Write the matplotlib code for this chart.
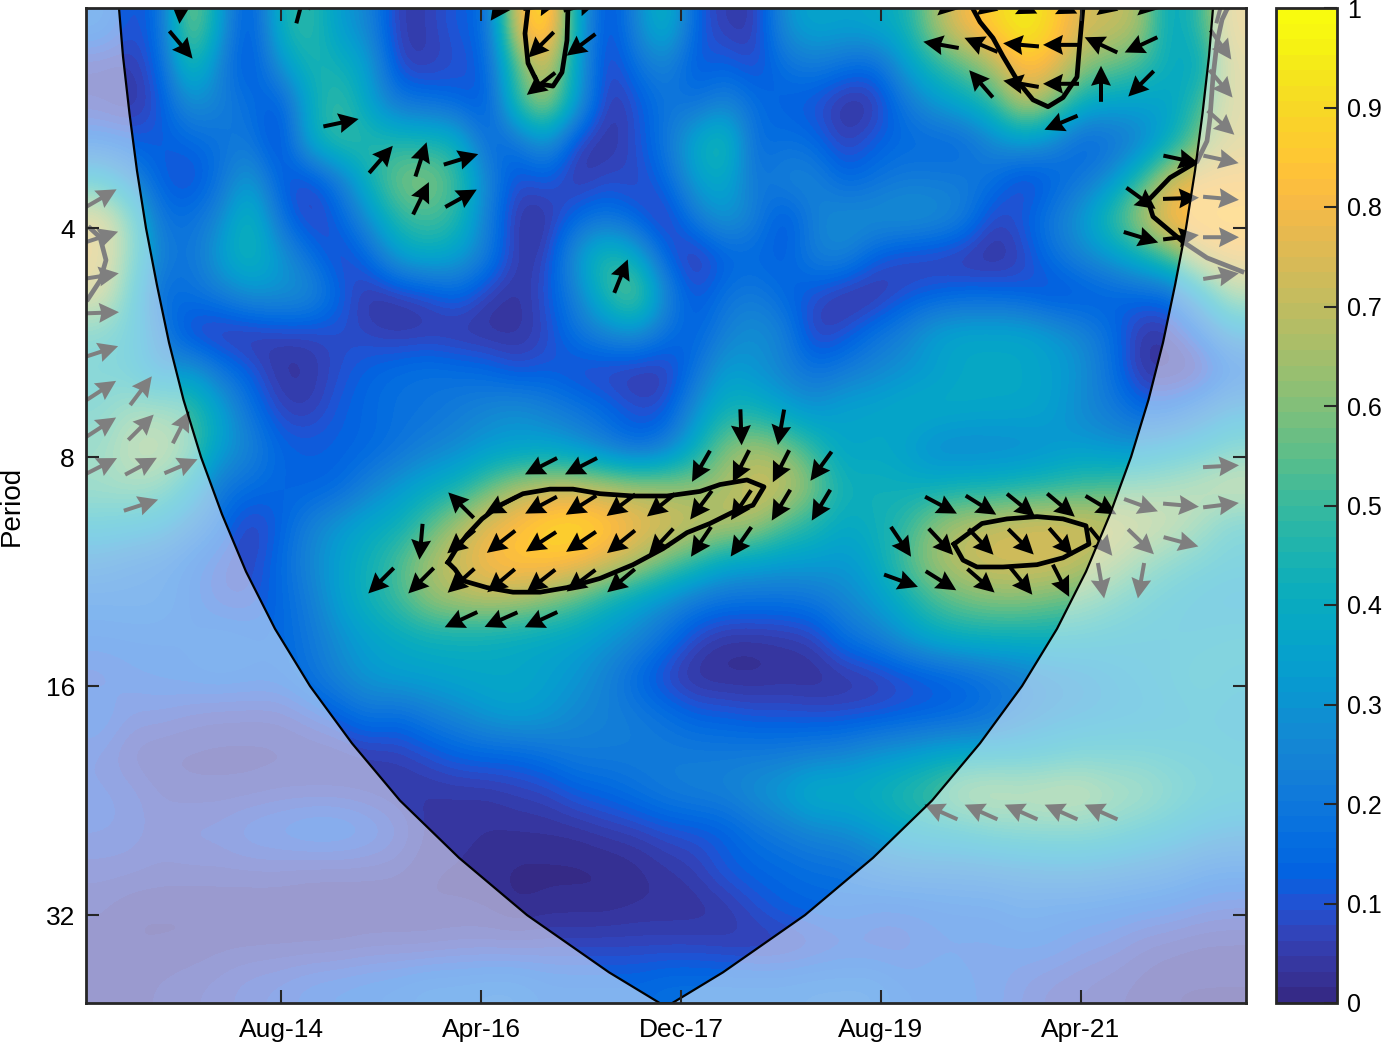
import numpy as np
import matplotlib
matplotlib.use('Agg')
import matplotlib.pyplot as plt
from matplotlib.colors import LinearSegmentedColormap

plt.rcParams['font.family'] = ['Liberation Sans', 'DejaVu Sans']

# coherence in percent, one list per period row (top to bottom), samples every 3 months
r00 = [18,9,14,66,35,5,43,51,33,26,4,6,12,14,79,97,40,4,26,46,12,5,4,30,38,35,38,42,64,80,88,98,88,74,72,66,35,51,76]
r01 = [5,5,12,51,24,7,30,46,43,35,6,5,9,12,55,76,35,4,18,26,9,14,7,18,22,17,14,33,46,55,66,85,80,62,57,51,40,37,72]
r02 = [6,3,9,30,24,17,9,38,53,35,20,18,14,9,51,68,35,3,9,20,17,26,17,12,9,2,3,19,31,38,48,71,60,40,35,35,35,52,71]
r03 = [14,12,12,14,18,22,4,40,51,48,46,46,43,14,18,33,5,3,9,20,40,51,14,18,15,5,12,15,14,14,26,33,26,12,17,23,40,60,72]
r04 = [40,26,12,7,18,35,12,6,20,43,60,62,51,26,7,12,3,9,7,14,35,40,18,26,26,14,18,22,22,22,18,5,12,20,30,51,74,80,80]
r05 = [74,51,18,18,26,48,18,5,12,30,48,53,48,22,3,3,15,19,12,3,22,33,24,7,24,30,30,32,30,24,6,12,22,33,51,68,85,85,85]
r06 = [76,51,24,18,35,46,33,18,6,14,35,40,35,22,4,6,33,51,40,12,2,12,14,12,24,26,12,6,5,3,2,6,18,26,33,43,55,74,79]
r07 = [71,43,14,18,22,30,30,30,14,3,4,7,14,5,3,10,24,48,62,26,9,19,22,14,9,2,2,9,12,14,14,12,7,9,12,14,14,35,60]
r08 = [46,40,24,5,3,3,6,6,9,7,4,5,3,3,3,7,19,26,30,18,12,24,30,24,4,9,18,24,35,38,38,38,33,26,17,3,5,14,30]
r09 = [43,40,26,35,20,12,3,4,9,14,17,19,17,15,9,12,7,5,3,4,18,35,30,24,18,22,26,30,33,38,38,38,35,30,17,3,3,3,14]
r10 = [46,55,55,51,37,18,7,5,12,15,18,18,22,26,30,24,20,15,9,9,30,43,43,35,30,37,37,40,41,39,38,38,35,26,22,14,14,22,30]
r11 = [51,62,64,55,35,26,14,13,13,14,18,24,27,32,33,35,30,22,14,22,40,60,66,60,48,35,38,35,26,25,26,26,30,33,30,30,35,38,46]
r12 = [53,55,53,40,20,17,14,12,14,24,32,38,43,55,66,69,71,68,66,64,62,66,74,72,60,43,43,41,41,43,43,46,48,51,53,55,57,62,66]
r13 = [40,38,35,24,17,5,12,24,32,38,41,53,66,77,83,90,92,88,80,76,72,70,66,53,46,38,42,48,62,68,72,74,75,74,71,68,64,55,43]
r14 = [24,20,18,14,9,7,15,26,35,43,53,66,74,82,85,85,82,75,68,57,48,37,35,33,33,31,38,53,64,71,74,74,74,69,64,55,48,43,40]
r15 = [17,18,18,14,9,9,14,22,35,43,51,62,66,68,66,60,53,43,35,28,20,17,17,17,19,26,32,41,52,57,60,60,57,55,49,43,38,35,33]
r16 = [14,14,14,14,17,15,14,20,28,35,38,41,41,40,38,37,35,31,26,17,7,3,3,4,6,17,22,31,38,41,41,41,41,40,38,37,37,38,41]
r17 = [9,12,13,14,15,14,14,18,26,32,35,35,37,38,38,35,31,24,14,6,2,2,2,3,2,3,4,7,10,13,18,22,26,28,32,35,38,42,38]
r18 = [14,9,9,7,6,6,6,9,12,19,15,22,26,32,35,32,26,24,22,18,13,12,10,10,9,9,10,12,13,15,18,24,28,30,32,33,35,37,36]
r19 = [9,5,4,4,4,4,4,4,4,5,6,9,13,14,14,18,22,22,22,22,22,22,22,22,24,26,31,33,37,38,38,38,40,43,43,43,41,40,38]
r20 = [10,9,6,5,5,5,6,6,6,5,4,4,4,4,6,7,12,14,18,22,24,25,30,35,43,41,43,48,53,62,64,62,64,64,57,55,48,43,41]
r21 = [10,9,7,9,9,12,13,15,15,13,9,4,4,3,3,3,3,5,6,9,10,12,18,22,26,28,33,38,41,42,46,48,48,48,46,41,38,33,30]
r22 = [7,7,6,6,6,6,6,5,5,5,5,3,3,2,1,1,1,1,2,4,6,12,14,15,17,17,22,24,24,24,25,26,28,28,26,24,22,18,17]
r23 = [5,3,3,3,3,3,3,3,3,3,3,3,3,3,1,2,2,2,3,3,3,4,9,13,14,15,12,12,13,14,14,17,15,15,14,13,12,10,9]
r24 = [4,3,3,3,4,4,4,4,4,5,5,5,6,6,6,7,7,7,7,7,7,6,5,5,7,9,9,9,12,12,12,13,13,10,9,6,5,4,4]
r25 = [4,4,5,6,7,9,10,12,13,14,15,17,17,18,18,15,15,15,15,17,17,17,17,17,18,18,18,14,14,13,12,9,7,6,5,4,3,3,3]

# x = months since Jan-13, y = log2(period)
x_ticks = [19, 39, 59, 79, 99]
x_labels = ['Aug-14', 'Apr-16', 'Dec-17', 'Aug-19', 'Apr-21']
y_ticks = [2, 3, 4, 5]
y_labels = ['4', '8', '16', '32']
cbar_ticks = [0, .1, .2, .3, .4, .5, .6, .7, .8, .9, 1]
cbar_labels = ['0', '0.1', '0.2', '0.3', '0.4', '0.5', '0.6', '0.7', '0.8', '0.9', '1']

# cone of influence
coi_left_m = [2.8, 3.2, 3.85, 4.6, 5.5, 6.6, 7.8, 9.25, 11.0, 13.1, 15.5, 18.4, 21.9, 26.1, 30.9, 36.8, 43.6, 51.8, 56.9]
coi_left_p = [1.04, 1.25, 1.5, 1.75, 2.0, 2.25, 2.5, 2.75, 3.0, 3.25, 3.5, 3.75, 4.0, 4.25, 4.5, 4.75, 5.0, 5.25, 5.385]
coi_right_m = [58.1, 63.2, 71.4, 78.2, 84.1, 88.9, 93.1, 96.6, 99.5, 101.9, 104.0, 105.75, 107.2, 108.4, 109.5, 110.4, 111.15, 111.8, 112.2]
coi_right_p = [5.385, 5.25, 5.0, 4.75, 4.5, 4.25, 4.0, 3.75, 3.5, 3.25, 3.0, 2.75, 2.5, 2.25, 2.0, 1.75, 1.5, 1.25, 1.04]

# significance contours
c_a = [(43.7,1.04),(43.4,1.15),(43.7,1.28),(44.7,1.37),(46.2,1.38),(47.1,1.32),(47.6,1.18),(47.7,1.035)]
c_b = [(88.1,1.035),(88.9,1.10),(90.2,1.17),(91.2,1.25),(92.7,1.36),(94.2,1.44),(95.7,1.47),(97.2,1.43),(98.6,1.34),(98.9,1.18),(99.2,1.035)]
c_c = [(113.7,1.035),(113.1,1.09),(112.6,1.19),(112.2,1.34),(111.9,1.52),(111.6,1.62),(110.6,1.71),(107.9,1.78),(105.7,1.88),(106.2,1.95),(109.2,2.06),(111.6,2.13),(115.1,2.19)]
c_d = [(-0.1,2.0),(0.9,2.04),(1.5,2.14),(0.9,2.23),(-0.3,2.31)]
c_e = [(35.7,3.46),(36.4,3.41),(37.6,3.34),(39.1,3.27),(40.9,3.21),(43.2,3.16),(45.9,3.14),(48.2,3.14),(50.9,3.16),(54.2,3.17),(57.6,3.17),(60.9,3.15),(62.9,3.12),(65.6,3.10),(67.3,3.13),(66.2,3.21),(64.2,3.24),(61.9,3.29),(59.6,3.33),(57.2,3.40),(54.2,3.47),(50.9,3.53),(47.6,3.57),(44.9,3.59),(42.2,3.59),(39.6,3.57),(37.2,3.54),(36.4,3.49),(35.7,3.46)]
c_f = [(86.3,3.38),(89.1,3.29),(91.6,3.27),(94.6,3.26),(97.2,3.27),(99.5,3.30),(99.8,3.38),(97.2,3.44),(94.6,3.47),(91.2,3.48),(88.6,3.48),(87.2,3.45),(86.3,3.38)]

# phase arrows: log2 period, months, angle in degrees
arrow_rows = [
    (1.03, [9,21,41,45,49,85,89,93,97,101,105,113], [-95,75,-125,10,15,-10,-15,-25,-25,-15,-10,75]),
    (1.20, [9,45,49,85,89,93,97,101,105,113], [-50,225,217,170,157,175,180,155,205,-55]),
    (1.37, [45,89,93,97,101,105,113], [218,131,170,180,90,225,-50]),
    (1.54, [25,97,113], [12,203,-42]),
    (1.70, [29,33,37,109,113], [49,72,17,-12,-12]),
    (1.87, [1,33,37,105,109,113], [30,64,29,-36,2,-5]),
    (2.04, [1,105,109,113], [18,-17,7,0]),
    (2.21, [1,53,113], [9,68,9]),
    (2.37, [1], [2]),
    (2.54, [1], [18]),
    (2.71, [1,5], [33,53]),
    (2.87, [1,5,9,65,69], [33,45,63,-88,-100]),
    (3.04, [1,5,9,45,49,61,65,69,73,113], [27,28,23,207,207,240,243,243,234,3]),
    (3.21, [5,37,41,45,49,53,57,61,65,69,73,85,89,93,97,101,105,109,113],
           [18,135,208,208,212,217,219,233,236,239,239,-28,-32,-39,-40,-31,-20,-5,7]),
    (3.37, [33,37,41,45,49,53,57,61,65,81,85,89,93,97,101,105,109],
           [-95,220,218,213,214,219,227,236,235,-56,-47,-46,-45,-49,-51,-44,-15]),
    (3.54, [29,33,37,41,45,49,53,81,85,89,93,97,101,105],
           [225,225,222,220,218,217,220,-20,-32,-41,-51,-63,-80,-100]),
    (3.71, [37,41,45], [205,204,205]),
    (4.55, [85,89,93,97,101], [156,156,156,156,156]),
]

parula = [
    (0.2081,0.1663,0.5292),(0.2123,0.2138,0.6270),(0.1959,0.2645,0.7279),(0.1253,0.3242,0.8303),
    (0.0117,0.3875,0.8820),(0.0165,0.4266,0.8786),(0.0498,0.4586,0.8641),(0.0723,0.4887,0.8467),
    (0.0793,0.5200,0.8312),(0.0641,0.5570,0.8240),(0.0343,0.5966,0.8199),(0.0239,0.6287,0.8038),
    (0.0228,0.6535,0.7767),(0.0384,0.6743,0.7436),(0.0843,0.6928,0.7062),(0.1453,0.7098,0.6646),
    (0.2178,0.7250,0.6193),(0.3022,0.7376,0.5712),(0.3953,0.7459,0.5244),(0.4871,0.7491,0.4840),
    (0.5709,0.7485,0.4494),(0.6473,0.7456,0.4188),(0.7184,0.7411,0.3905),(0.7858,0.7356,0.3633),
    (0.8507,0.7299,0.3360),(0.9140,0.7258,0.3063),(0.9739,0.7314,0.2666),(0.9990,0.7653,0.2164),
    (0.9880,0.8066,0.1794),(0.9697,0.8481,0.1475),(0.9589,0.8949,0.1132),(0.9661,0.9514,0.0755),
    (0.9763,0.9831,0.0538),
]
cmap = LinearSegmentedColormap.from_list('parula', parula, N=64)

coherence = np.array([r00,r01,r02,r03,r04,r05,r06,r07,r08,r09,r10,r11,r12,r13,r14,r15,r16,r17,r18,r19,r20,r21,r22,r23,r24,r25]) / 100

W, H = 1382, 1042
x0, x1 = -0.5, 115.5
y_top, y_bot = 1.039, 5.384
dark = '#262626'

fig = plt.figure(figsize=(W / 100, H / 100), dpi=100)
ax = fig.add_axes([86 / W, 1 - 1003 / H, 1160 / W, 995 / H])
im = ax.imshow(coherence, cmap=cmap, vmin=0, vmax=1, extent=(x0, x1, y_bot, y_top),
               aspect='auto', interpolation='bicubic', zorder=1)

for c in [c_a, c_b, c_c, c_d, c_e, c_f]:
    xs, ys = zip(*c)
    ax.plot(xs, ys, color='black', lw=3.4, solid_joinstyle='round', zorder=2)

# arrows, sized in pixels
for row_p, months, angles in arrow_rows:
    rad = np.deg2rad(angles)
    ax.quiver(months, [row_p] * len(months), 36 * np.cos(rad), 36 * np.sin(rad),
              angles='uv', units='dots', scale_units='dots', scale=1, pivot='mid',
              width=4, headwidth=5, headlength=5, headaxislength=4.5,
              color='black', zorder=3)

# white wash outside the cone of influence
ax.fill([x0] + coi_left_m + coi_right_m + [coi_right_m[-1], x1, x1, x0],
        [y_top] + coi_left_p + coi_right_p + [y_top, y_top, y_bot, y_bot],
        color='white', alpha=0.5, lw=0, zorder=4)
ax.plot(coi_left_m + coi_right_m, coi_left_p + coi_right_p, color='black', lw=1.6, zorder=5)

ax.set_xlim(x0, x1)
ax.set_ylim(y_bot, y_top)
ax.set_xticks(x_ticks)
ax.set_xticklabels(x_labels)
ax.set_yticks(y_ticks)
ax.set_yticklabels(y_labels)
ax.tick_params(axis='both', direction='in', top=True, right=True, length=9.4, width=1.5,
               color=dark, labelsize=19, labelcolor='black')
ax.tick_params(axis='x', pad=11)
ax.tick_params(axis='y', pad=8)
ax.xaxis.set_zorder(7)
ax.yaxis.set_zorder(7)
for s in ax.spines.values():
    s.set_linewidth(2)
    s.set_color(dark)
    s.set_zorder(6)

fig.text(12 / W, 1 - 506 / H, 'Period', rotation=90, ha='center', va='center', fontsize=20)

cax = fig.add_axes([1276 / W, 1 - 1003 / H, 61 / W, 995 / H])
cb = fig.colorbar(im, cax=cax)
cb.set_ticks(cbar_ticks)
cb.set_ticklabels(cbar_labels)
cax.tick_params(direction='in', length=9.4, width=1.5, color=dark, labelsize=18, pad=7)
cb.outline.set_linewidth(2)
cb.outline.set_edgecolor(dark)

fig.savefig('out.png', dpi=100)
